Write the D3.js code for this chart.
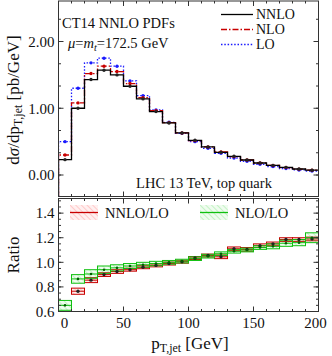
<!DOCTYPE html>
<html>
<head>
<meta charset="utf-8">
<script src="https://cdn.jsdelivr.net/npm/d3@7"></script>
<style>
  body { margin: 0; background: #fff; }
  text { font-family: "Liberation Serif", "DejaVu Serif", serif; fill: #111; }
</style>
</head>
<body>
<div id="chart"></div>
<script>
// bins of 10 GeV from 0 to 200
var binEdges = [0, 10, 20, 30, 40, 50, 60, 70, 80, 90, 100, 110, 120, 130, 140, 150, 160, 170, 180, 190, 200];

// dsigma/dpT [pb/GeV]
var nnlo = [0.23, 1.00, 1.43, 1.57, 1.50, 1.33, 1.14, 0.95, 0.78, 0.63, 0.52, 0.42, 0.34, 0.28, 0.225, 0.18, 0.145, 0.115, 0.09, 0.072];
var nlo  = [0.30, 1.08, 1.52, 1.63, 1.55, 1.37, 1.16, 0.965, 0.785, 0.63, 0.515, 0.42, 0.345, 0.275, 0.225, 0.18, 0.143, 0.112, 0.088, 0.072];
var lo   = [0.50, 1.30, 1.68, 1.75, 1.63, 1.41, 1.19, 0.975, 0.79, 0.625, 0.50, 0.40, 0.325, 0.255, 0.205, 0.16, 0.127, 0.097, 0.076, 0.06];

// ratios and band half widths
var ratioNNLO = [0.46, 0.765, 0.855, 0.90, 0.925, 0.94, 0.96, 0.975, 0.99, 1.005, 1.035, 1.055, 1.045, 1.11, 1.105, 1.135, 1.15, 1.185, 1.185, 1.19];
var bandNNLO  = [0.03, 0.025, 0.02, 0.015, 0.015, 0.012, 0.012, 0.012, 0.012, 0.012, 0.012, 0.012, 0.015, 0.015, 0.015, 0.015, 0.015, 0.015, 0.015, 0.015];
var ratioNLO  = [0.65, 0.865, 0.905, 0.94, 0.955, 0.97, 0.98, 0.99, 1.0, 1.01, 1.03, 1.05, 1.07, 1.09, 1.10, 1.12, 1.13, 1.155, 1.16, 1.20];
var bandNLO   = [0.04, 0.035, 0.035, 0.03, 0.025, 0.02, 0.02, 0.018, 0.015, 0.015, 0.015, 0.015, 0.015, 0.015, 0.015, 0.015, 0.02, 0.025, 0.025, 0.04];

var xTicksMajor = [0, 50, 100, 150, 200];
var yTopTicks = [0, 1, 2];
var yRatTicks = [0.6, 0.8, 1.0, 1.2, 1.4];

var W = 332, H = 356;
var red = "#c80000", blue = "#1a1aff", green = "#10c010";

var svg = d3.select("#chart").append("svg")
    .attr("width", W)
    .attr("height", H);

var defs = svg.append("defs");
function hatch(id, color) {
    var p = defs.append("pattern")
        .attr("id", id)
        .attr("patternUnits", "userSpaceOnUse")
        .attr("width", 4).attr("height", 4)
        .attr("patternTransform", "rotate(-45)");
    p.append("rect").attr("width", 4).attr("height", 4).attr("fill", color).attr("opacity", 0.08);
    p.append("line").attr("x1", 0).attr("y1", 0).attr("x2", 0).attr("y2", 4)
        .attr("stroke", color).attr("stroke-width", 1).attr("opacity", 0.45);
}
hatch("hRed", "#ff4040");
hatch("hGreen", "#30d030");

var x = d3.scaleLinear().domain([0, 200]).range([58.5, 318.5]);
var yTop = d3.scaleLinear().domain([-0.322, 2.607]).range([196.5, 1]);
var yRat = d3.scaleLinear().domain([0.6, 1.519]).range([311.5, 198.5]);

defs.append("clipPath").attr("id", "clipTop").append("rect")
    .attr("x", x(0)).attr("y", yTop.range()[1]).attr("width", x(200) - x(0)).attr("height", yTop.range()[0] - yTop.range()[1]);
defs.append("clipPath").attr("id", "clipRat").append("rect")
    .attr("x", x(0)).attr("y", yRat.range()[1]).attr("width", x(200) - x(0)).attr("height", yRat.range()[0] - yRat.range()[1]);

var bins = d3.range(nnlo.length).map(function (i) {
    return {
        lo: binEdges[i], hi: binEdges[i + 1], mid: (binEdges[i] + binEdges[i + 1]) / 2,
        nnlo: nnlo[i], nlo: nlo[i], lo_: lo[i],
        r1: ratioNNLO[i], e1: bandNNLO[i], r2: ratioNLO[i], e2: bandNLO[i]
    };
});

// ---------- top panel ----------
var gTop = svg.append("g").attr("clip-path", "url(#clipTop)");

function stepPath(key, yScale) {
    var pts = bins.map(function (d) { return [x(d.lo), yScale(d[key])]; });
    pts.push([x(200), yScale(bins[bins.length - 1][key])]);
    return d3.line().curve(d3.curveStepAfter)(pts);
}

var series = [
    { key: "lo_", color: blue, dash: "1.5,1.8", width: 1.3 },
    { key: "nlo", color: red, dash: "6,2,1.5,2", width: 1.3 },
    { key: "nnlo", color: "#000", dash: null, width: 1.3 }
];

series.forEach(function (s) {
    // vertical drop at x=0 edge from axis bottom
    gTop.append("path")
        .attr("d", "M" + x(0) + "," + yTop.range()[0] + stepPath(s.key, yTop).replace(/^M/, "L"))
        .attr("fill", "none")
        .attr("stroke", s.color)
        .attr("stroke-width", s.width)
        .attr("stroke-dasharray", s.dash);
    gTop.selectAll(".pt-" + s.key)
        .data(bins).enter()
        .append("circle")
        .attr("cx", function (d) { return x(d.mid); })
        .attr("cy", function (d) { return yTop(d[s.key]); })
        .attr("r", 1.7)
        .attr("fill", s.color === "#000" ? "#222" : s.color);
});

// ---------- ratio panel ----------
var gRat = svg.append("g").attr("clip-path", "url(#clipRat)");

function band(rKey, eKey, color, fill) {
    var g = gRat.append("g");
    g.selectAll("rect")
        .data(bins).enter()
        .append("rect")
        .attr("x", function (d) { return x(d.lo); })
        .attr("width", function (d) { return x(d.hi) - x(d.lo); })
        .attr("y", function (d) { return yRat(d[rKey] + d[eKey]); })
        .attr("height", function (d) { return yRat(d[rKey] - d[eKey]) - yRat(d[rKey] + d[eKey]); })
        .attr("fill", "url(#" + fill + ")")
        .attr("stroke", color)
        .attr("stroke-width", 1);
    g.selectAll("line")
        .data(bins).enter()
        .append("line")
        .attr("x1", function (d) { return x(d.lo); })
        .attr("x2", function (d) { return x(d.hi); })
        .attr("y1", function (d) { return yRat(d[rKey]); })
        .attr("y2", function (d) { return yRat(d[rKey]); })
        .attr("stroke", color)
        .attr("stroke-width", 1);
}
band("r1", "e1", red, "hRed");
band("r2", "e2", green, "hGreen");

gRat.selectAll(".dot1")
    .data(bins).enter()
    .append("circle")
    .attr("cx", function (d) { return x(d.mid); })
    .attr("cy", function (d) { return yRat(d.r1); })
    .attr("r", 1.7)
    .attr("fill", "#222");
gRat.selectAll(".dot2")
    .data(bins).enter()
    .append("circle")
    .attr("cx", function (d) { return x(d.mid); })
    .attr("cy", function (d) { return yRat(d.r2); })
    .attr("r", 1.3)
    .attr("fill", "#006000");

// ---------- frames and ticks ----------
function frame(yScale, yMajor, yMinor, xLabels, yFmt) {
    var y0 = yScale.range()[0], y1 = yScale.range()[1];
    var x0 = x.range()[0], x1 = x.range()[1];
    var g = svg.append("g");
    g.append("rect")
        .attr("x", x0).attr("y", y1).attr("width", x1 - x0).attr("height", y0 - y1)
        .attr("fill", "none").attr("stroke", "#333").attr("stroke-width", 1);

    var xMinor = d3.range(0, 201, 10);
    xMinor.forEach(function (v) {
        var len = xTicksMajor.indexOf(v) >= 0 ? 5 : 2.5;
        g.append("line").attr("x1", x(v)).attr("x2", x(v)).attr("y1", y0).attr("y2", y0 - len)
            .attr("stroke", "#333");
        g.append("line").attr("x1", x(v)).attr("x2", x(v)).attr("y1", y1).attr("y2", y1 + len)
            .attr("stroke", "#333");
    });
    yMinor.forEach(function (v) {
        g.append("line").attr("x1", x0).attr("x2", x0 + 2.5).attr("y1", yScale(v)).attr("y2", yScale(v)).attr("stroke", "#333");
        g.append("line").attr("x1", x1).attr("x2", x1 - 2.5).attr("y1", yScale(v)).attr("y2", yScale(v)).attr("stroke", "#333");
    });
    yMajor.forEach(function (v) {
        g.append("line").attr("x1", x0).attr("x2", x0 + 5).attr("y1", yScale(v)).attr("y2", yScale(v)).attr("stroke", "#333");
        g.append("line").attr("x1", x1).attr("x2", x1 - 5).attr("y1", yScale(v)).attr("y2", yScale(v)).attr("stroke", "#333");
        g.append("text")
            .attr("x", x0 - 4).attr("y", yScale(v)).attr("dy", "0.35em")
            .attr("text-anchor", "end")
            .style("font-size", "15px")
            .text(yFmt(v));
    });
    if (xLabels) {
        xTicksMajor.forEach(function (v) {
            var dx = v === 0 ? 6 : (v === 200 ? -3 : 0);
            g.append("text")
                .attr("x", x(v) + dx).attr("y", y0 + 16)
                .attr("text-anchor", "middle")
                .style("font-size", "15px")
                .text(v);
        });
    }
}

var topMinor = d3.range(-3, 8).map(function (i) { return i / 3; })
    .filter(function (v) { return v > -0.32 && v < 2.6; });
frame(yTop, yTopTicks, topMinor, false, d3.format(".2f"));
var ratMinor = d3.range(12, 31).map(function (i) { return i * 0.05; });
frame(yRat, yRatTicks, ratMinor, true, d3.format(".1f"));

// ---------- labels ----------
function subLabel(parent, parts) {
    parts.forEach(function (p) {
        var t = parent.append("tspan").text(p.t);
        if (p.it) t.style("font-style", "italic");
        if (p.sub) t.attr("baseline-shift", "-25%").style("font-size", "70%");
    });
}

var yl = svg.append("text")
    .attr("transform", "translate(19,100) rotate(-90)")
    .attr("text-anchor", "middle")
    .style("font-size", "17px");
subLabel(yl, [{ t: "d" }, { t: "σ", it: true }, { t: "/dp" }, { t: "T,jet", sub: true }, { t: " [pb/GeV]" }]);

svg.append("text")
    .attr("transform", "translate(19,255) rotate(-90)")
    .attr("text-anchor", "middle")
    .style("font-size", "17px")
    .text("Ratio");

var xl = svg.append("text")
    .attr("x", 190).attr("y", 349)
    .attr("text-anchor", "middle")
    .style("font-size", "17px");
subLabel(xl, [{ t: "p" }, { t: "T,jet", sub: true }, { t: " [GeV]" }]);

svg.append("text")
    .attr("x", 62).attr("y", 28)
    .style("font-size", "14.5px")
    .text("CT14 NNLO PDFs");

var mu = svg.append("text")
    .attr("x", 68).attr("y", 48)
    .style("font-size", "14.5px");
subLabel(mu, [{ t: "μ", it: true }, { t: "=" }, { t: "m", it: true }, { t: "t", it: true, sub: true }, { t: "=172.5 GeV" }]);

svg.append("text")
    .attr("x", 204).attr("y", 188)
    .attr("text-anchor", "middle")
    .style("font-size", "14.5px")
    .text("LHC 13 TeV, top quark");

// top legend
var legTop = [
    { name: "NNLO", color: "#000", dash: null },
    { name: "NLO", color: red, dash: "6,2,1.5,2" },
    { name: "LO", color: blue, dash: "1.5,1.8" }
];
legTop.forEach(function (d, i) {
    var yy = 14.5 + i * 15;
    svg.append("line")
        .attr("x1", 221).attr("x2", 253).attr("y1", yy).attr("y2", yy)
        .attr("stroke", d.color).attr("stroke-width", 1.3)
        .attr("stroke-dasharray", d.dash);
    svg.append("text")
        .attr("x", 256).attr("y", yy).attr("dy", "0.33em")
        .style("font-size", "14px")
        .text(d.name);
});

// ratio legend
var legRat = [
    { name: "NNLO/LO", color: red, fill: "hRed", x0: 70 },
    { name: "NLO/LO", color: green, fill: "hGreen", x0: 200 }
];
legRat.forEach(function (d) {
    svg.append("rect")
        .attr("x", d.x0).attr("y", 205).attr("width", 28).attr("height", 15)
        .attr("fill", "url(#" + d.fill + ")");
    svg.append("line")
        .attr("x1", d.x0).attr("x2", d.x0 + 28).attr("y1", 212.5).attr("y2", 212.5)
        .attr("stroke", d.color).attr("stroke-width", 1.3);
    svg.append("text")
        .attr("x", d.x0 + 35).attr("y", 212.5).attr("dy", "0.35em")
        .style("font-size", "14.5px")
        .text(d.name);
});
</script>
</body>
</html>
